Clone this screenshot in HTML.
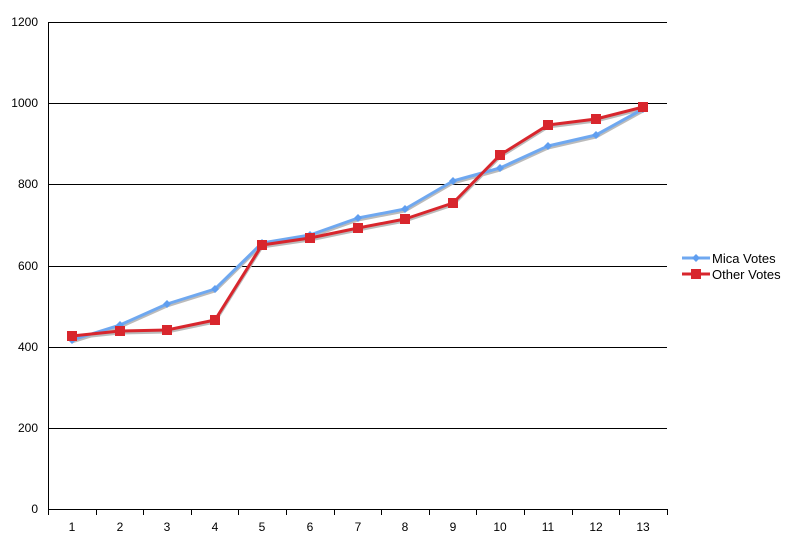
<!DOCTYPE html>
<html><head><style>body{margin:0;background:#fff}svg{display:block;font-family:"Liberation Sans",sans-serif}</style></head><body>
<svg width="795" height="550" xmlns="http://www.w3.org/2000/svg">
<g stroke="#000" stroke-width="1">
<line x1="48" y1="22.5" x2="667" y2="22.5"/>
<line x1="48" y1="103.5" x2="667" y2="103.5"/>
<line x1="48" y1="184.5" x2="667" y2="184.5"/>
<line x1="48" y1="266.5" x2="667" y2="266.5"/>
<line x1="48" y1="347.5" x2="667" y2="347.5"/>
<line x1="48" y1="428.5" x2="667" y2="428.5"/>
<line x1="48" y1="509.5" x2="667" y2="509.5"/>
<line x1="48.5" y1="22" x2="48.5" y2="510"/>
</g>
<g stroke="#000"><line x1="48.5" y1="509" x2="48.5" y2="515"/><line x1="96.5" y1="509" x2="96.5" y2="515"/><line x1="143.5" y1="509" x2="143.5" y2="515"/><line x1="191.5" y1="509" x2="191.5" y2="515"/><line x1="238.5" y1="509" x2="238.5" y2="515"/><line x1="286.5" y1="509" x2="286.5" y2="515"/><line x1="334.5" y1="509" x2="334.5" y2="515"/><line x1="381.5" y1="509" x2="381.5" y2="515"/><line x1="429.5" y1="509" x2="429.5" y2="515"/><line x1="476.5" y1="509" x2="476.5" y2="515"/><line x1="524.5" y1="509" x2="524.5" y2="515"/><line x1="572.5" y1="509" x2="572.5" y2="515"/><line x1="619.5" y1="509" x2="619.5" y2="515"/><line x1="667.5" y1="509" x2="667.5" y2="515"/></g>
<g font-size="12" text-anchor="end" fill="#000">
<text x="38" y="26">1200</text><text x="38" y="107">1000</text><text x="38" y="188">800</text><text x="38" y="270">600</text><text x="38" y="351">400</text><text x="38" y="432">200</text><text x="38" y="513">0</text></g>
<g font-size="12" text-anchor="middle"><text x="72" y="531">1</text><text x="120" y="531">2</text><text x="167" y="531">3</text><text x="215" y="531">4</text><text x="262" y="531">5</text><text x="310" y="531">6</text><text x="358" y="531">7</text><text x="405" y="531">8</text><text x="453" y="531">9</text><text x="500" y="531">10</text><text x="548" y="531">11</text><text x="596" y="531">12</text><text x="643" y="531">13</text></g>
<g fill="none" stroke-width="3" stroke-linejoin="round">
<polyline stroke="#bbb" points="72,342 120,327 167,306 215,291 262,245 310,237 358,220 405,211 453,183 500,170 548,148 596,137 643,111"/>
<polyline stroke="#bbb" points="72,338 120,333 167,332 215,322 262,247 310,240 358,230 405,221 453,205 500,157 548,127 596,121 643,109"/>
<polyline stroke="#6fa8f0" points="72,340 120,325 167,304 215,289 262,243 310,235 358,218 405,209 453,181 500,168 548,146 596,135 643,109"/>
<polyline stroke="#d8262d" points="72,336 120,331 167,330 215,320 262,245 310,238 358,228 405,219 453,203 500,155 548,125 596,119 643,107"/>
</g>
<g fill="#5f9ef0">
<path d="M72 336l4 4-4 4-4-4z"/><path d="M120 321l4 4-4 4-4-4z"/><path d="M167 300l4 4-4 4-4-4z"/><path d="M215 285l4 4-4 4-4-4z"/><path d="M262 239l4 4-4 4-4-4z"/><path d="M310 231l4 4-4 4-4-4z"/><path d="M358 214l4 4-4 4-4-4z"/><path d="M405 205l4 4-4 4-4-4z"/><path d="M453 177l4 4-4 4-4-4z"/><path d="M500 164l4 4-4 4-4-4z"/><path d="M548 142l4 4-4 4-4-4z"/><path d="M596 131l4 4-4 4-4-4z"/><path d="M643 105l4 4-4 4-4-4z"/></g>
<g fill="#d8262d">
<rect x="67" y="331" width="10" height="10"/><rect x="115" y="326" width="10" height="10"/><rect x="162" y="325" width="10" height="10"/><rect x="210" y="315" width="10" height="10"/><rect x="257" y="240" width="10" height="10"/><rect x="305" y="233" width="10" height="10"/><rect x="353" y="223" width="10" height="10"/><rect x="400" y="214" width="10" height="10"/><rect x="448" y="198" width="10" height="10"/><rect x="495" y="150" width="10" height="10"/><rect x="543" y="120" width="10" height="10"/><rect x="591" y="114" width="10" height="10"/><rect x="638" y="102" width="10" height="10"/></g>
<line x1="682" y1="258" x2="710" y2="258" stroke="#6fa8f0" stroke-width="3"/><path d="M696 254l4 4-4 4-4-4z" fill="#5f9ef0"/>
<line x1="682" y1="274" x2="710" y2="274" stroke="#d8262d" stroke-width="3"/><rect x="691" y="269" width="10" height="10" fill="#d8262d"/>
<text x="712" y="263" font-size="13">Mica Votes</text><text x="712" y="279" font-size="13">Other Votes</text>
</svg></body></html>
